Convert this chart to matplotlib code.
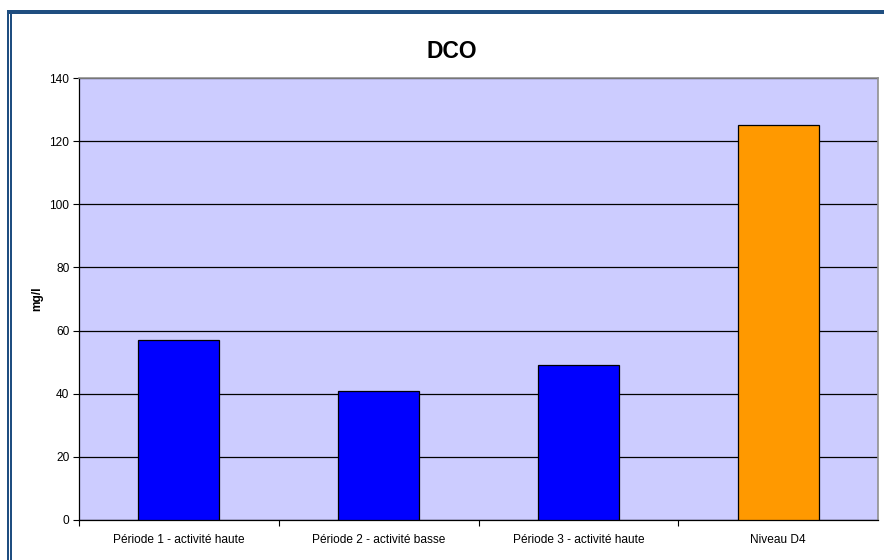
import matplotlib
matplotlib.use("Agg")
import matplotlib.pyplot as plt
from matplotlib.patches import Rectangle

categories = ["Période 1 - activité haute", "Période 2 - activité basse",
              "Période 3 - activité haute", "Niveau D4"]
values = [57, 41, 49, 125]
colors = ["#0000FF", "#0000FF", "#0000FF", "#FF9900"]
yticks = [0, 20, 40, 60, 80, 100, 120, 140]

plt.rcParams['font.family'] = ['Liberation Sans', 'DejaVu Sans']

W, H = 884, 560
fig = plt.figure(figsize=(W / 100, H / 100), dpi=100)

# axes placement in pixels
left, right, top, bottom = 79, 878, 78, 520
ax = fig.add_axes([left / W, 1 - bottom / H, (right - left) / W, (bottom - top) / H])
ax.set_facecolor("#CCCCFF")

x = list(range(len(categories)))
ax.bar(x, values, width=0.405, color=colors, edgecolor="black", linewidth=0.9, zorder=3)

ax.set_xlim(-0.5, len(categories) - 0.5)
ax.set_ylim(0, 140)
ax.set_yticks(yticks)
ax.set_yticklabels([str(t) for t in yticks], fontsize=8.6)
ax.yaxis.grid(True, color="black", linewidth=0.9, zorder=1)
ax.set_axisbelow(True)

ax.set_xticks([i + 0.5 for i in range(len(categories) - 1)] + [-0.5])
ax.set_xticklabels([])
ax.set_xticks(x, minor=True)
ax.set_xticklabels(categories, minor=True, fontsize=8.6)
ax.tick_params(axis='x', which='minor', length=0, pad=10)
ax.tick_params(axis='x', which='major', length=4, direction='out', width=0.8)
ax.tick_params(axis='y', length=4, direction='out', width=0.8, pad=3)

for s in ["left", "bottom"]:
    ax.spines[s].set_color("black")
    ax.spines[s].set_linewidth(0.9)
for s in ["top", "right"]:
    ax.spines[s].set_color("#909090")
    ax.spines[s].set_linewidth(1.2)

ax.set_ylabel("mg/l", fontsize=8.6, fontweight="bold")
ax.yaxis.set_label_coords((43 - left) / (right - left), 0.5)

fig.text(452 / W, 1 - 52 / H, "DCO", fontsize=16.5, fontweight="bold",
         ha="center", va="center")

# border frame
border = "#1F4E80"
def px_rect(x0, y0, x1, y1):
    fig.patches.append(Rectangle((x0 / W, 1 - y1 / H), (x1 - x0) / W, (y1 - y0) / H,
                                 transform=fig.transFigure, facecolor=border,
                                 edgecolor="none", antialiased=False, zorder=10))

px_rect(7, 10, 9, H)      # outer left line
px_rect(10, 12, 12, H)    # inner left line
px_rect(7, 10, W, 14)     # top line

fig.savefig("out.png", dpi=100)
